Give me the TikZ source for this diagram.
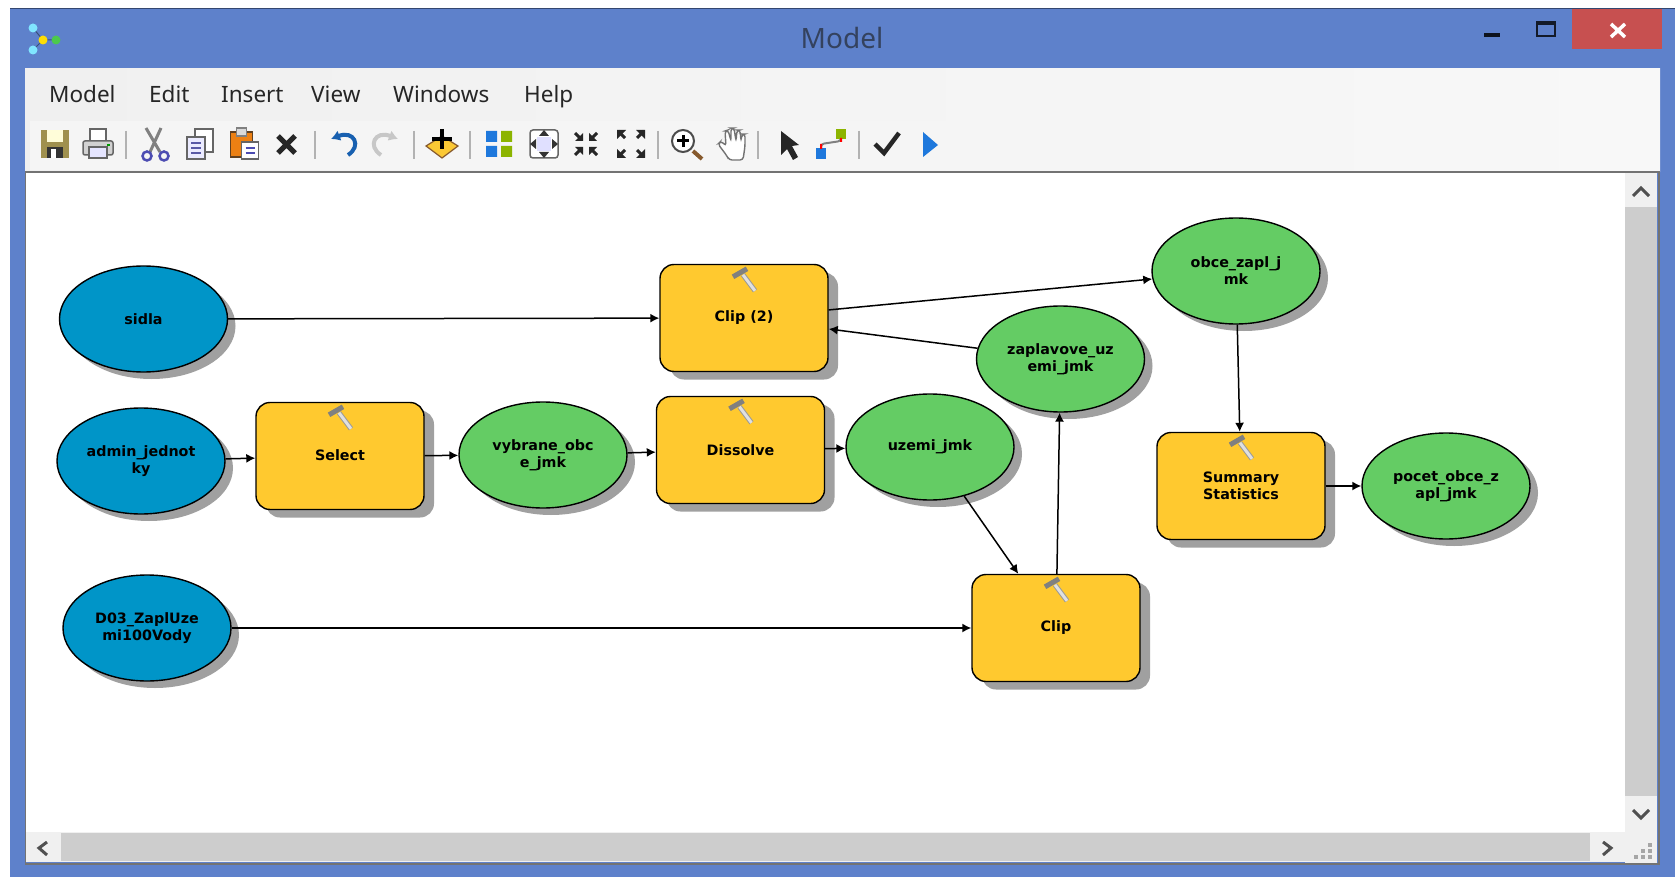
\documentclass[tikz,border=0pt]{standalone}
\usepackage{fontspec}
\setmainfont{Noto Sans}
\newfontfamily\labelfont{DejaVu Sans}
\usetikzlibrary{shapes.geometric,shadows,arrows.meta}
\definecolor{winblue}{HTML}{5E81CB}
\definecolor{inputblue}{HTML}{0095C8}
\definecolor{toolyellow}{HTML}{FFC92F}
\definecolor{dataGreen}{HTML}{64CC64}
\definecolor{shadowgray}{HTML}{A0A0A0}
\definecolor{closered}{HTML}{C75050}
\definecolor{barleft}{HTML}{F0F0F0}
\definecolor{barright}{HTML}{F8F8F8}
\definecolor{scrollbg}{HTML}{F0F0F0}
\definecolor{thumb}{HTML}{CDCDCD}
\definecolor{chevron}{HTML}{505050}
\definecolor{titletext}{HTML}{34425E}
\definecolor{icoblue}{HTML}{1E78DC}
\definecolor{icogreen}{HTML}{8CB400}
\tikzset{
  lbl/.style={font=\labelfont\bfseries\fontsize{14.3}{17}\selectfont,text=black,align=center,inner sep=0pt},
  ell/.style={ellipse,draw=black,line width=1.4pt,minimum width=168pt,minimum height=106pt,inner sep=0pt,
    lbl,drop shadow={shadow xshift=8pt,shadow yshift=-7pt,fill=shadowgray,opacity=1}},
  inputnode/.style={ell,fill=inputblue},
  datanode/.style={ell,fill=dataGreen},
  toolnode/.style={rectangle,rounded corners=14pt,draw=black,line width=1.4pt,fill=toolyellow,
    minimum width=168pt,minimum height=107pt,inner sep=0pt,lbl,
    drop shadow={shadow xshift=10pt,shadow yshift=-8pt,fill=shadowgray,opacity=1}},
  link/.style={draw=black,line width=1.5pt,-{Latex[length=9pt,width=9pt]}},
  menu/.style={font=\fontsize{22.5}{26}\selectfont,text=black!85,inner sep=0pt,anchor=base west},
  sepline/.style={draw=black!30,line width=1.3pt},
  chev/.style={draw=chevron,line width=3pt,line cap=butt,line join=miter},
}
\newcommand{\hammerat}[1]{%
  \begin{scope}[shift={(#1)}]
    \draw[line width=5pt,draw=black!40] (-1,11) -- (11,27);
    \draw[line width=3pt,draw=black!12] (-1,11) -- (11,27);
    \draw[line width=5pt,draw=black!50] (-11,13) -- (3,5);
  \end{scope}}
\begin{document}
\begin{tikzpicture}[x=1pt,y=-1pt]
\useasboundingbox (0,0) rectangle (1675,877);
% window frame
\fill[white] (0,0) rectangle (1675,877);
\fill[winblue] (10,8) rectangle (1675,877);
\fill[black!45!winblue] (10,8) rectangle (1675,9);
\fill[closered] (1572,9) rectangle (1662,49);
\draw[white,line width=3.5pt] (1611,24) -- (1625,37) (1625,24) -- (1611,37);
\draw[black!80!winblue,line width=2.5pt] (1537,22) rectangle (1555,36);
\draw[black!80!winblue,line width=3.5pt] (1537,23) -- (1555,23);
\draw[black!85!winblue,line width=3.5pt] (1484,35) -- (1500,35);
% app icon
\draw[black!40!winblue,line width=1pt] (33,28) -- (43,40) -- (33,50) (43,40) -- (56,40);
\fill[blue!20!cyan!50!white] (33,28) circle (4.5) (33,50) circle (4.5);
\fill[yellow!80!orange] (43,40) circle (4.5);
\fill[green!70!black!70!white] (56,40) circle (4.5);
\node[font=\fontsize{28}{30}\selectfont,text=titletext,inner sep=0pt] (title) at (842,38) {Model};
% menu and toolbar
\shade[left color=barleft,right color=barright] (25,69) rectangle (1660,172);
\fill[white!96!black] (30,121) rectangle (957,170);
\node[menu] (mModel) at (49,103) {Model};
\node[menu] (mEdit) at (149,103) {Edit};
\node[menu] (mInsert) at (221,103) {Insert};
\node[menu] (mView) at (311,103) {View};
\node[menu] (mWindows) at (393,103) {Windows};
\node[menu] (mHelp) at (524,103) {Help};
% separators
\foreach \sx in {126,315,414,470,658,758,859} \draw[sepline] (\sx,131) -- (\sx,159);
% save
\begin{scope}[shift={(55,144)}]
  \fill[black!50!yellow!70!brown] (-14,-14) rectangle (14,14);
  \fill[white!85!yellow] (-8,-14) rectangle (8,-2);
  \fill[black!80] (-8,3) rectangle (8,14);
  \fill[white!70] (-4,5) rectangle (1,14);
\end{scope}
% print
\begin{scope}[shift={(98,144)}]
  \draw[black!60,fill=white,line width=1.5pt] (-8,-15) rectangle (8,0);
  \draw[black!60,fill=black!18,line width=1.5pt,rounded corners=2pt] (-15,-3) rectangle (15,11);
  \draw[black!60,fill=white!90!blue,line width=1.5pt] (-9,3) rectangle (9,14);
  \fill[green!60!black] (9,0) rectangle (12,2);
\end{scope}
% scissors
\begin{scope}[shift={(155,144)}]
  \draw[black!50,line width=3pt] (-9,-16) -- (5,8) (6,-16) -- (-5,8);
  \draw[blue!40!gray,line width=2.5pt] (-8,12) circle (4.5) (9,12) circle (4.5);
\end{scope}
% copy
\begin{scope}[shift={(200,144)}]
  \draw[black!60,fill=white,line width=1.5pt] (-5,-15) rectangle (13,8);
  \draw[black!60,fill=white!92!blue,line width=1.5pt] (-13,-7) rectangle (5,15);
  \draw[blue!30!gray,line width=1.2pt] (-9,-1) -- (1,-1) (-9,4) -- (1,4) (-9,9) -- (1,9);
\end{scope}
% paste
\begin{scope}[shift={(243.5,144)}]
  \draw[black!50!brown,fill=orange!70!brown,line width=1.5pt] (-13,-12) rectangle (9,13);
  \draw[black!50,fill=black!15,line width=1.2pt] (-7,-16) rectangle (3,-8);
  \draw[black!60,fill=white,line width=1.5pt] (-2,-2) rectangle (15,15);
  \draw[blue!40!gray,line width=1.2pt] (2,4) -- (11,4) (2,9) -- (11,9);
\end{scope}
% delete
\draw[black!85,line width=5pt] (278,136) -- (295,153) (295,136) -- (278,153);
% undo / redo
\draw[icoblue!80!black,line width=4pt,-{Latex[length=9pt,width=11pt]}] (348,155) .. controls (362,146) and (354,130) .. (331,139);
\draw[black!22,line width=4pt,-{Latex[length=9pt,width=11pt]}] (381,155) .. controls (367,146) and (375,130) .. (398,139);
% add data
\begin{scope}[shift={(442,144)}]
  \draw[brown!70!black,fill=yellow!50!orange!80,line width=1.2pt] (-16,2) -- (0,-8) -- (16,2) -- (0,14) -- cycle;
  \draw[black,line width=4.5pt] (0,-15) -- (0,5) (-10,-5) -- (10,-5);
\end{scope}
% grid layout
\fill[icoblue] (486,131) rectangle (497,142) (486,146) rectangle (497,157);
\fill[icogreen] (501,131) rectangle (512,142) (501,146) rectangle (512,157);
% full extent
\begin{scope}[shift={(544,144)}]
  \draw[black!60,fill=white,line width=1.5pt,rounded corners=3pt] (-14,-14) rectangle (14,14);
  \fill[blue!12!white] (-7,-7) rectangle (7,7);
  \fill[black!80] (0,-14) -- (5,-8) -- (-5,-8) -- cycle (0,14) -- (5,8) -- (-5,8) -- cycle
    (-14,0) -- (-8,5) -- (-8,-5) -- cycle (14,0) -- (8,5) -- (8,-5) -- cycle;
\end{scope}
% zoom in fixed
\foreach \dx/\dy in {-1/-1,1/-1,-1/1,1/1} {
  \draw[black!85,line width=3pt] (586+\dx*11,144+\dy*11) -- (586+\dx*4,144+\dy*4);
  \fill[black!85] (586+\dx*3,144+\dy*3) -- (586+\dx*11,144+\dy*3) -- (586+\dx*3,144+\dy*11) -- cycle;
  \draw[black!85,line width=3pt] (631+\dx*6,144+\dy*6) -- (631+\dx*13,144+\dy*13);
  \fill[black!85] (631+\dx*14,144+\dy*14) -- (631+\dx*5,144+\dy*14) -- (631+\dx*14,144+\dy*5) -- cycle;
}
% magnifier
\begin{scope}[shift={(686,144)}]
  \draw[brown!70!black,line width=4pt] (7,7) -- (16,15);
  \draw[black!70,fill=white,line width=2pt] (-3,-3) circle (11);
  \draw[black,line width=3pt] (-9,-3) -- (3,-3) (-3,-9) -- (-3,3);
\end{scope}
% hand
\begin{scope}[shift={(731,144)}]
  \draw[black!55,fill=white,line width=1.4pt,rounded corners=3pt]
    (-13,0) -- (-4,12) -- (-2,16) -- (12,16) -- (14,2) -- (14,-10) -- (11,-10) -- (10,-3) -- (9,-14) -- (6,-14) -- (5,-3) -- (3,-16) -- (0,-16) -- (0,-3) -- (-3,-14) -- (-6,-13) -- (-5,2) -- (-10,-3) -- cycle;
\end{scope}
% arrow tool
\fill[black!85] (781,131) -- (781,155) -- (787,149) -- (793,160) -- (798,157) -- (792,146) -- (799,145) -- cycle;
% connect tool
\begin{scope}[shift={(831,144)}]
  \draw[black!50,line width=2pt,rounded corners=3pt] (-10,6) -- (-10,0) -- (10,-3) -- (10,-10);
  \fill[icogreen] (5,-15) rectangle (15,-5);
  \fill[icoblue] (-15,4) rectangle (-5,15);
  \fill[red] (-11,0) rectangle (-9,5) (9,-6) rectangle (11,-2);
\end{scope}
% check
\draw[black!85,line width=4.5pt] (875,144) -- (884,153) -- (899,133);
% run
\fill[icoblue] (923,132) -- (938,145) -- (923,157) -- cycle;
% canvas
\fill[black!55] (25,171) rectangle (1660,173);
\fill[white] (26,173) rectangle (1625,832);
% scrollbars
\fill[scrollbg] (1625,173) rectangle (1657,864);
\fill[thumb] (1625,207) rectangle (1657,796);
\fill[scrollbg] (26,832) rectangle (1657,862);
\fill[thumb] (61,833) rectangle (1590,861);
\draw[black!55,line width=2pt] (1658.5,172) -- (1658.5,864) -- (25,864);
\draw[black!55,line width=1pt] (25.5,172) -- (25.5,864);
\draw[chev] (1633,196) -- (1641,188) -- (1649,196);
\draw[chev] (1633,810) -- (1641,818) -- (1649,810);
\draw[chev] (1603,842) -- (1611,848) -- (1603,855);
\draw[chev] (47,842) -- (39,848) -- (47,855);
\foreach \gx/\gy in {1650/845,1650/851,1650/857,1643/851,1643/857,1636/857} \fill[black!35] (\gx-2,\gy-2) rectangle (\gx+2,\gy+2);
% nodes
\node[inputnode] (sidla) at (143.5,319) {sidla};
\node[inputnode] (admin) at (141,461) {admin\_jednot\\ky};
\node[inputnode] (d03) at (147,628) {D03\_ZaplUze\\mi100Vody};
\node[toolnode] (clip2) at (744,318) {Clip (2)};
\node[toolnode] (select) at (340,456) {\raisebox{2pt}{Select}};
\node[toolnode] (dissolve) at (740.5,450) {Dissolve};
\node[toolnode] (clip) at (1056,628) {Clip};
\node[toolnode] (summary) at (1241,486) {Summary\\Statistics};
\node[datanode] (vybrane) at (543,455) {vybrane\_obc\\e\_jmk};
\node[datanode] (uzemi) at (930,447) {uzemi\_jmk};
\node[datanode] (zaplavove) at (1060.5,359) {zaplavove\_uz\\emi\_jmk};
\node[datanode] (obce) at (1236,271) {obce\_zapl\_j\\mk};
\node[datanode] (pocet) at (1446,486) {pocet\_obce\_z\\apl\_jmk};
% hammers
\hammerat{clip2.north}
\hammerat{select.north}
\hammerat{dissolve.north}
\hammerat{clip.north}
\hammerat{summary.north}
% connectors
\draw[link] (sidla) -- (clip2);
\draw[link] (admin) -- (select);
\draw[link] (select) -- (vybrane);
\draw[link] (vybrane) -- (dissolve);
\draw[link] (dissolve) -- (uzemi);
\draw[link] (uzemi) -- (clip);
\draw[link] (d03) -- (clip);
\draw[link] (clip) -- (zaplavove);
\draw[link] (zaplavove) -- (clip2);
\draw[link] (clip2) -- (obce);
\draw[link] (obce) -- (summary);
\draw[link] (summary) -- (pocet);
\end{tikzpicture}
\end{document}
